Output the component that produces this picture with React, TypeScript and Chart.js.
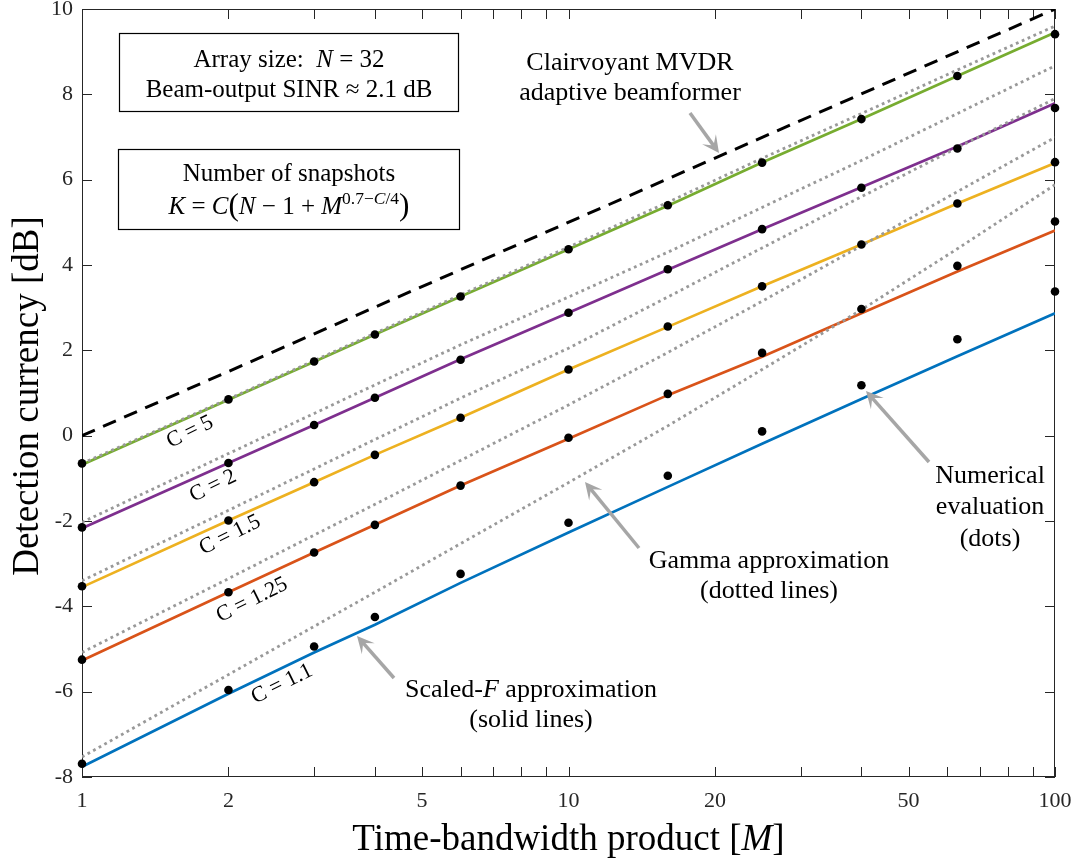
import React, { useEffect, useRef } from "react";
import { Chart, registerables } from "chart.js";
Chart.register(...registerables);

// ---------------- data ----------------
const M_VALUES = [1, 2, 3, 4, 6, 10, 16, 25, 40, 63, 100];
const X_TICK_LABELS = [1, 2, 5, 10, 20, 50, 100];
const X_TICKS = [1, 2, 3, 4, 5, 6, 7, 8, 9, 10, 20, 30, 40, 50, 60, 70, 80, 90, 100];
const Y_TICKS = [-8, -6, -4, -2, 0, 2, 4, 6, 8, 10];

const C_LABELS = ["C = 5", "C = 2", "C = 1.5", "C = 1.25", "C = 1.1"];

const CLAIRVOYANT_M = [1, 100];
const CLAIRVOYANT = [0, 10];

// Scaled-F approximation (solid lines)
const SCALED_F_C5 = [-0.68, 0.84, 1.73, 2.37, 3.26, 4.37, 5.39, 6.40, 7.42, 8.43, 9.45];
const SCALED_F_C2 = [-2.17, -0.64, 0.25, 0.89, 1.79, 2.88, 3.89, 4.84, 5.82, 6.78, 7.79];
const SCALED_F_C15 = [-3.55, -1.99, -1.09, -0.45, 0.42, 1.55, 2.55, 3.50, 4.48, 5.44, 6.39];
const SCALED_F_C125 = [-5.27, -3.67, -2.74, -2.09, -1.17, -0.07, 0.95, 1.85, 2.87, 3.85, 4.81];
const SCALED_F_C11 = [-7.76, -6.05, -5.08, -4.43, -3.45, -2.27, -1.20, -0.19, 0.86, 1.86, 2.87];

// Gamma approximation (dotted lines)
const GAMMA_C5 = [-0.65, 0.86, 1.76, 2.40, 3.30, 4.42, 5.47, 6.50, 7.55, 8.57, 9.60];
const GAMMA_C2 = [-2.03, -0.42, 0.52, 1.19, 2.13, 3.25, 4.30, 5.35, 6.45, 7.55, 8.67];
const GAMMA_C15 = [-3.40, -1.75, -0.78, -0.09, 0.88, 2.05, 3.25, 4.40, 5.60, 6.75, 7.90];
const GAMMA_C125 = [-5.08, -3.35, -2.33, -1.61, -0.58, 0.72, 1.95, 3.15, 4.45, 5.72, 6.99];
const GAMMA_C11 = [-7.53, -5.60, -4.47, -3.67, -2.53, -1.10, 0.23, 1.55, 2.95, 4.38, 5.88];

// Numerical evaluation (dots)
const NUMERIC_C5 = [-0.65, 0.85, 1.74, 2.37, 3.26, 4.37, 5.40, 6.40, 7.42, 8.43, 9.41];
const NUMERIC_C2 = [-2.15, -0.64, 0.25, 0.89, 1.78, 2.88, 3.90, 4.84, 5.81, 6.73, 7.68];
const NUMERIC_C15 = [-3.53, -1.99, -1.09, -0.45, 0.42, 1.55, 2.56, 3.50, 4.48, 5.44, 6.41];
const NUMERIC_C125 = [-5.25, -3.67, -2.74, -2.09, -1.17, -0.05, 0.98, 1.94, 2.97, 3.98, 5.02];
const NUMERIC_C11 = [-7.69, -5.96, -4.94, -4.25, -3.24, -2.04, -0.94, 0.10, 1.18, 2.26, 3.38];

const SOLID = [SCALED_F_C5, SCALED_F_C2, SCALED_F_C15, SCALED_F_C125, SCALED_F_C11];
const GAMMA = [GAMMA_C5, GAMMA_C2, GAMMA_C15, GAMMA_C125, GAMMA_C11];
const NUMERIC = [NUMERIC_C5, NUMERIC_C2, NUMERIC_C15, NUMERIC_C125, NUMERIC_C11];
const COLORS = ["#77AC30", "#7E2F8E", "#EDB120", "#D95319", "#0072BD"];

// ---------------- drawing helpers ----------------
const SERIF = '"Liberation Serif", "Times New Roman", serif';
const AXIS_COLOR = "#262626";

type Seg = { t: string; i?: boolean; s?: number; dy?: number };

function drawRich(ctx: CanvasRenderingContext2D, segs: Seg[], cx: number, baseline: number, size: number) {
  let total = 0;
  const items = segs.map((sg) => {
    const fs = size * (sg.s ?? 1);
    const font = `${sg.i ? "italic " : ""}${fs}px ${SERIF}`;
    ctx.font = font;
    const w = ctx.measureText(sg.t).width;
    total += w;
    return { ...sg, font, w };
  });
  let x = cx - total / 2;
  ctx.textAlign = "left";
  ctx.textBaseline = "alphabetic";
  for (const it of items) {
    ctx.font = it.font;
    ctx.fillText(it.t, x, baseline - (it.dy ?? 0) * size);
    x += it.w;
  }
}

function drawArrow(ctx: CanvasRenderingContext2D, x1: number, y1: number, x2: number, y2: number) {
  const a = Math.atan2(y2 - y1, x2 - x1);
  const c = Math.cos(a), s = Math.sin(a);
  const hl = 17, hw = 8.5;
  ctx.save();
  ctx.strokeStyle = "#a6a6a6";
  ctx.fillStyle = "#a6a6a6";
  ctx.lineWidth = 3.5;
  ctx.beginPath();
  ctx.moveTo(x1, y1);
  ctx.lineTo(x2 - c * hl * 0.5, y2 - s * hl * 0.5);
  ctx.stroke();
  ctx.beginPath();
  ctx.moveTo(x2, y2);
  ctx.lineTo(x2 - c * hl - s * hw, y2 - s * hl + c * hw);
  ctx.lineTo(x2 - c * hl * 0.55, y2 - s * hl * 0.55);
  ctx.lineTo(x2 - c * hl + s * hw, y2 - s * hl - c * hw);
  ctx.closePath();
  ctx.fill();
  ctx.restore();
}

const decorPlugin = {
  id: "decor",
  beforeDatasetsDraw(chart: any) {
    const ctx: CanvasRenderingContext2D = chart.ctx;
    const { left, right, top, bottom } = chart.chartArea;
    const xs = chart.scales.x, ys = chart.scales.y;
    ctx.save();
    ctx.fillStyle = "#ffffff";
    ctx.fillRect(left, top, right - left, bottom - top);
    ctx.strokeStyle = AXIS_COLOR;
    ctx.lineWidth = 1;
    ctx.strokeRect(left + 0.5, top + 0.5, right - left - 1, bottom - top - 1);
    const tl = 10;
    ctx.beginPath();
    for (const v of X_TICKS) {
      const px = Math.round(xs.getPixelForValue(v)) + 0.5;
      ctx.moveTo(px, bottom);
      ctx.lineTo(px, bottom - tl);
      ctx.moveTo(px, top);
      ctx.lineTo(px, top + tl);
    }
    for (const v of Y_TICKS) {
      const py = Math.round(ys.getPixelForValue(v)) + 0.5;
      ctx.moveTo(left, py);
      ctx.lineTo(left + tl, py);
      ctx.moveTo(right, py);
      ctx.lineTo(right - tl, py);
    }
    ctx.stroke();

    // tick labels
    ctx.fillStyle = AXIS_COLOR;
    ctx.font = `22px ${SERIF}`;
    ctx.textAlign = "right";
    ctx.textBaseline = "middle";
    for (const v of Y_TICKS) {
      ctx.fillText(String(v), left - 9, ys.getPixelForValue(v));
    }
    ctx.textAlign = "center";
    ctx.textBaseline = "top";
    for (const v of X_TICK_LABELS) {
      ctx.fillText(String(v), xs.getPixelForValue(v), bottom + 13);
    }

    // axis titles
    ctx.fillStyle = "#000000";
    ctx.save();
    ctx.translate(38, (top + bottom) / 2 + 3);
    ctx.rotate(-Math.PI / 2);
    ctx.font = `37px ${SERIF}`;
    ctx.textAlign = "center";
    ctx.textBaseline = "alphabetic";
    ctx.fillText("Detection currency [dB]", 0, 0);
    ctx.restore();
    drawRich(ctx, [{ t: "Time-bandwidth product [" }, { t: "M", i: true }, { t: "]" }], (left + right) / 2, 850, 37);
    ctx.restore();
  },
  afterDatasetsDraw(chart: any) {
    const ctx: CanvasRenderingContext2D = chart.ctx;
    ctx.save();
    ctx.fillStyle = "#000";
    ctx.strokeStyle = "#000";
    ctx.lineWidth = 1.2;

    // info boxes
    ctx.fillStyle = "#fff";
    ctx.fillRect(119.5, 33.5, 339, 78);
    ctx.fillRect(118.5, 149.5, 341, 80);
    ctx.strokeRect(119.5, 33.5, 339, 78);
    ctx.strokeRect(118.5, 149.5, 341, 80);
    ctx.fillStyle = "#000";
    drawRich(ctx, [{ t: "Array size:  " }, { t: "N", i: true }, { t: " = 32" }], 289, 67, 25);
    drawRich(ctx, [{ t: "Beam-output SINR ≈ 2.1 dB" }], 289, 97, 25);
    drawRich(ctx, [{ t: "Number of snapshots" }], 289, 181, 25);
    drawRich(
      ctx,
      [
        { t: "K", i: true },
        { t: " = " },
        { t: "C", i: true },
        { t: "(", s: 1.25, dy: -0.04 },
        { t: "N", i: true },
        { t: " − 1 + " },
        { t: "M", i: true },
        { t: "0.7−", s: 0.7, dy: 0.42 },
        { t: "C", i: true, s: 0.7, dy: 0.42 },
        { t: "/4", s: 0.7, dy: 0.42 },
        { t: ")", s: 1.25, dy: -0.04 },
      ],
      289,
      214,
      25
    );

    // annotations
    const A = 26;
    drawRich(ctx, [{ t: "Clairvoyant MVDR" }], 630, 70, A);
    drawRich(ctx, [{ t: "adaptive beamformer" }], 630, 100, A);
    drawRich(ctx, [{ t: "Numerical" }], 990, 483, A);
    drawRich(ctx, [{ t: "evaluation" }], 990, 514, A);
    drawRich(ctx, [{ t: "(dots)" }], 990, 546, A);
    drawRich(ctx, [{ t: "Gamma approximation" }], 769, 568, A);
    drawRich(ctx, [{ t: "(dotted lines)" }], 769, 598, A);
    drawRich(ctx, [{ t: "Scaled-" }, { t: "F", i: true }, { t: " approximation" }], 531, 697, A);
    drawRich(ctx, [{ t: "(solid lines)" }], 531, 727, A);

    drawArrow(ctx, 690, 113, 719, 153);
    drawArrow(ctx, 929, 462, 866, 391);
    drawArrow(ctx, 639, 548, 585, 482);
    drawArrow(ctx, 394, 678, 357, 636);

    // C labels
    const pos = [
      [190, 432],
      [213, 486],
      [230, 535],
      [252, 600],
      [282, 684],
    ];
    ctx.font = `22px ${SERIF}`;
    ctx.textAlign = "center";
    ctx.textBaseline = "middle";
    C_LABELS.forEach((lab, k) => {
      ctx.save();
      ctx.translate(pos[k][0], pos[k][1]);
      ctx.rotate(-0.46);
      ctx.fillText(lab, 0, 0);
      ctx.restore();
    });
    ctx.restore();
  },
};

export default function App() {
  const ref = useRef<HTMLCanvasElement | null>(null);
  useEffect(() => {
    if (!ref.current) return;
    const pts = (xs: number[], ys: number[]) => xs.map((x, i) => ({ x, y: ys[i] }));
    const datasets: any[] = [];
    NUMERIC.forEach((v, k) => {
      datasets.push({
        label: "num" + k,
        data: pts(M_VALUES, v),
        showLine: false,
        pointRadius: 4.3,
        pointBackgroundColor: "#000",
        pointBorderWidth: 0,
        borderColor: "#000",
        clip: false,
        order: 0,
      });
    });
    GAMMA.forEach((v, k) => {
      datasets.push({
        label: "gamma" + k,
        data: pts(M_VALUES, v),
        borderColor: "#999999",
        borderWidth: 2.8,
        borderDash: [2.8, 3.6],
        pointRadius: 0,
        tension: 0,
        order: 1,
      });
    });
    datasets.push({
      label: "clairvoyant",
      data: pts(CLAIRVOYANT_M, CLAIRVOYANT),
      borderColor: "#000",
      borderWidth: 3,
      borderDash: [14, 9],
      pointRadius: 0,
      order: 2,
    });
    SOLID.forEach((v, k) => {
      datasets.push({
        label: "scaledF" + k,
        data: pts(M_VALUES, v),
        borderColor: COLORS[k],
        borderWidth: 2.7,
        pointRadius: 0,
        tension: 0,
        order: 3,
      });
    });

    const chart = new Chart(ref.current, {
      type: "line",
      data: { datasets },
      options: {
        animation: false,
        responsive: false,
        devicePixelRatio: 1,
        layout: { padding: { left: 82, right: 20, top: 9, bottom: 84 } },
        plugins: { legend: { display: false }, tooltip: { enabled: false } },
        events: [],
        scales: {
          x: { type: "logarithmic", min: 1, max: 100, display: false },
          y: { type: "linear", min: -8, max: 10, display: false },
        },
      },
      plugins: [decorPlugin],
    } as any);
    return () => chart.destroy();
  }, []);
  return (
    <div style={{ position: "absolute", left: 0, top: 0, width: 1075, height: 861, background: "#fff" }}>
      <canvas ref={ref} width={1075} height={861} style={{ display: "block" }} />
    </div>
  );
}
